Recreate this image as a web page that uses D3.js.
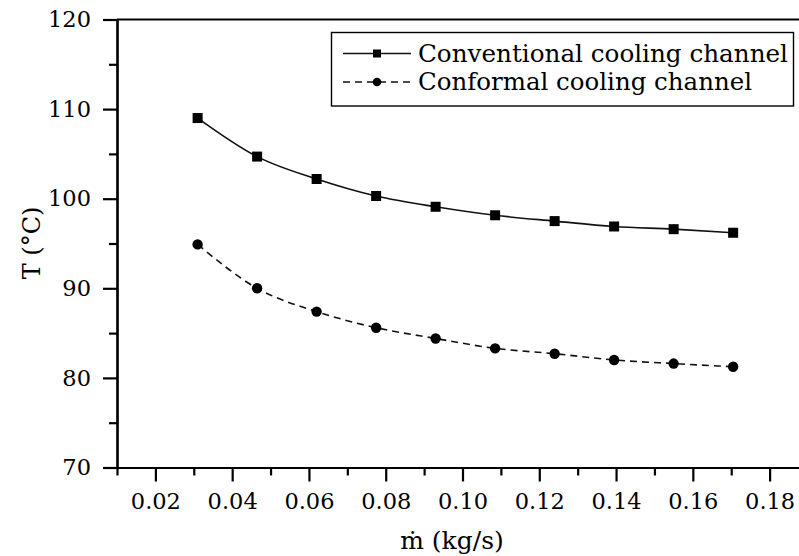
<!DOCTYPE html>
<meta charset="utf-8">
<style>
  body { margin: 0; background: #fff; }
  svg text { font-family: "DejaVu Serif", serif; fill: #000; }
</style>
<svg width="799" height="556"></svg>
<script src="https://cdn.jsdelivr.net/npm/d3@7/dist/d3.min.js"></script>
<script>

// mass flow rate (kg/s) and temperatures
var massFlow = [0.031, 0.0465, 0.062, 0.0775, 0.093, 0.1085, 0.124, 0.1395, 0.155, 0.1705];
var conventional = [109.0, 104.7, 102.2, 100.3, 99.1, 98.15, 97.5, 96.9, 96.6, 96.2];
var conformal = [94.9, 90.0, 87.4, 85.6, 84.4, 83.3, 82.7, 82.0, 81.6, 81.25];
var seriesNames = ["Conventional cooling channel", "Conformal cooling channel"];
var xTicks = [0.02, 0.04, 0.06, 0.08, 0.10, 0.12, 0.14, 0.16, 0.18];
var xMinor = [0.01, 0.03, 0.05, 0.07, 0.09, 0.11, 0.13, 0.15, 0.17];
var yTicks = [70, 80, 90, 100, 110, 120];
var yMinor = [75, 85, 95, 105, 115];

var svg = d3.select("svg");
var plotLeft = 117, plotRight = 808, plotTop = 19.5, plotBottom = 467.5;

var x = d3.scaleLinear().domain([0.01, 0.19]).range([plotLeft, plotRight]);
var y = d3.scaleLinear().domain([70, 120]).range([plotBottom, plotTop]);

// frame (top and right)
svg.append("path")
    .attr("d", "M" + plotLeft + "," + plotTop + "H" + plotRight + "V" + plotBottom)
    .attr("fill", "none").attr("stroke", "#000").attr("stroke-width", 2.2);

svg.append("g").attr("transform", "translate(0," + plotBottom + ")")
    .call(d3.axisBottom(x).tickValues(xTicks).tickFormat(d3.format(".2f")).tickSize(14).tickSizeOuter(0).tickPadding(12));
svg.append("g").attr("transform", "translate(0," + plotBottom + ")")
    .call(d3.axisBottom(x).tickValues(xMinor).tickFormat("").tickSize(8).tickSizeOuter(0));

svg.append("g").attr("transform", "translate(" + plotLeft + ",0)")
    .call(d3.axisLeft(y).tickValues(yTicks).tickSize(14).tickSizeOuter(0).tickPadding(12));
svg.append("g").attr("transform", "translate(" + plotLeft + ",0)")
    .call(d3.axisLeft(y).tickValues(yMinor).tickFormat("").tickSize(8).tickSizeOuter(0));

svg.selectAll(".domain").attr("stroke", "#000").attr("stroke-width", 2.2);
svg.selectAll(".tick line").attr("stroke", "#000").attr("stroke-width", 2.2);
svg.selectAll(".tick text").attr("font-size", 22.5).attr("font-family", "DejaVu Serif").attr("fill", "#000");

// axis titles
svg.append("text")
    .attr("transform", "translate(40,243) rotate(-90)")
    .attr("text-anchor", "middle").attr("font-size", 24)
    .text("T (\u00B0C)");
svg.append("text")
    .attr("x", 452).attr("y", 549)
    .attr("text-anchor", "middle").attr("font-size", 25)
    .text("\u1E41 (kg/s)");

// curves
var line1 = d3.line().x(function(d, i) { return x(massFlow[i]); }).y(function(d) { return y(d); })
    .curve(d3.curveMonotoneX);

svg.append("path").datum(conventional)
    .attr("d", line1).attr("fill", "none").attr("stroke", "#111").attr("stroke-width", 1.6);
svg.append("path").datum(conformal)
    .attr("d", line1).attr("fill", "none").attr("stroke", "#111").attr("stroke-width", 1.6)
    .attr("stroke-dasharray", "7,5");

svg.selectAll(".sq").data(conventional).enter().append("rect")
    .attr("x", function(d, i) { return x(massFlow[i]) - 5; })
    .attr("y", function(d) { return y(d) - 5; })
    .attr("width", 10).attr("height", 10).attr("fill", "#000");

svg.selectAll(".ci").data(conformal).enter().append("circle")
    .attr("cx", function(d, i) { return x(massFlow[i]); })
    .attr("cy", function(d) { return y(d); })
    .attr("r", 5.2).attr("fill", "#000");

// legend
var legend = svg.append("g");
legend.append("rect").attr("x", 331.5).attr("y", 32.5).attr("width", 462).attr("height", 73.5)
    .attr("fill", "#fff").attr("stroke", "#000").attr("stroke-width", 1.4);

var rowY = [53.5, 82];
seriesNames.forEach(function(name, i) {
  var g = legend.append("g");
  g.append("line").attr("x1", 343).attr("x2", 411).attr("y1", rowY[i]).attr("y2", rowY[i])
      .attr("stroke", "#111").attr("stroke-width", 1.6)
      .attr("stroke-dasharray", i ? "7,5" : null);
  if (i === 0) {
    g.append("rect").attr("x", 373).attr("y", rowY[i] - 4).attr("width", 8).attr("height", 8).attr("fill", "#000");
  } else {
    g.append("circle").attr("cx", 377).attr("cy", rowY[i]).attr("r", 4.3).attr("fill", "#000");
  }
  g.append("text").attr("x", 418).attr("y", rowY[i] + 8).attr("font-size", 25)
      .attr("textLength", 370).attr("lengthAdjust", "spacingAndGlyphs").text(name);
});
// second legend row is shorter in the reference
legend.selectAll("text").filter(function(d, i) { return i === 1; }).attr("textLength", 334);

</script>
